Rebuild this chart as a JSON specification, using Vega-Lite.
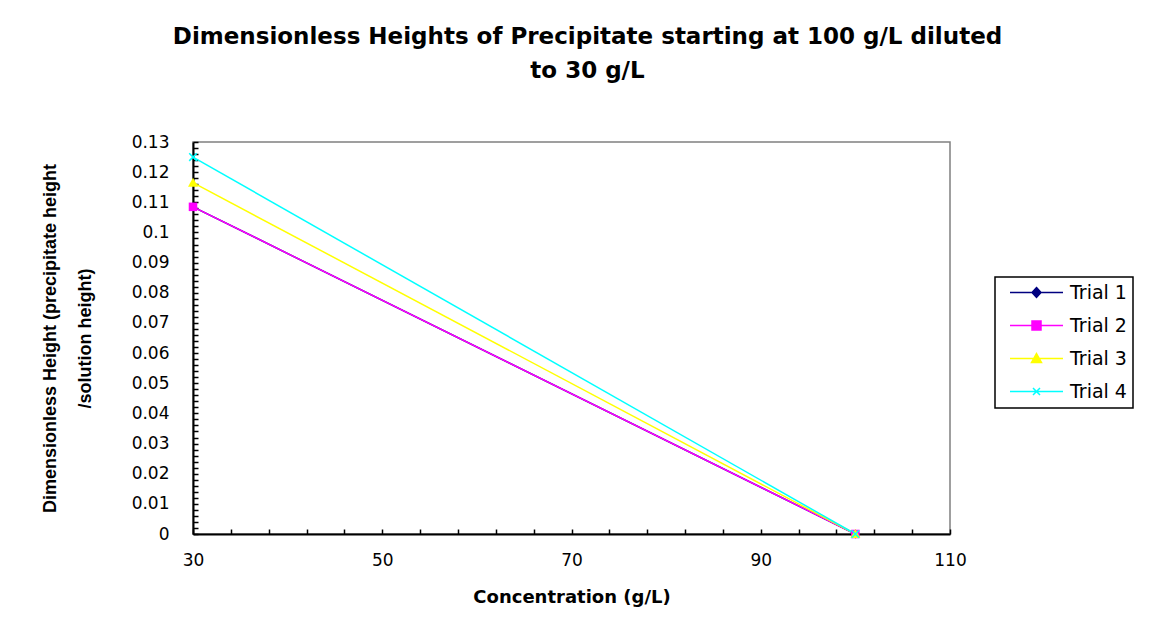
{
  "$schema": "https://vega.github.io/schema/vega-lite/v6.json",
  "autosize": "none",
  "padding": {"left": 193, "top": 142, "right": 214, "bottom": 110},
  "width": 757,
  "height": 392,
  "background": "white",
  "title": {
    "text": ["Dimensionless Heights of Precipitate starting at 100 g/L diluted", "to 30 g/L"],
    "font": "DejaVu Sans",
    "fontSize": 23,
    "fontWeight": "bold",
    "color": "black",
    "anchor": "middle",
    "dx": 16,
    "lineHeight": 34,
    "offset": 50
  },
  "data": {
    "values": [
      {"trial": "Trial 1", "concentration": 30, "height": 0.1085},
      {"trial": "Trial 1", "concentration": 100, "height": 0},
      {"trial": "Trial 2", "concentration": 30, "height": 0.1085},
      {"trial": "Trial 2", "concentration": 100, "height": 0},
      {"trial": "Trial 3", "concentration": 30, "height": 0.1165},
      {"trial": "Trial 3", "concentration": 100, "height": 0},
      {"trial": "Trial 4", "concentration": 30, "height": 0.125},
      {"trial": "Trial 4", "concentration": 100, "height": 0}
    ]
  },
  "encoding": {
    "x": {
      "field": "concentration",
      "type": "quantitative",
      "scale": {"domain": [30, 110], "nice": false, "zero": false},
      "axis": {
        "title": "Concentration (g/L)",
        "values": [30, 34, 38, 42, 46, 50, 54, 58, 62, 66, 70, 74, 78, 82, 86, 90, 94, 98, 102, 106, 110],
        "labelExpr": "datum.value % 20 == 10 ? datum.label : ''",
        "labelFlush": false,
        "grid": false,
        "domainColor": "black",
        "domainWidth": 2,
        "tickColor": "black",
        "tickSize": -5,
        "tickWidth": 1.5,
        "labelPadding": 23,
        "labelFont": "DejaVu Sans",
        "labelFontSize": 17,
        "labelColor": "black",
        "titleFont": "DejaVu Sans",
        "titleFontSize": 18,
        "titleFontWeight": "bold",
        "titleColor": "black",
        "titlePadding": 20
      }
    },
    "y": {
      "field": "height",
      "type": "quantitative",
      "scale": {"domain": [0, 0.13], "nice": false},
      "axis": {
        "title": ["Dimensionless Height (precipitate height", "/solution height)"],
        "values": [0, 0.002, 0.004, 0.006, 0.008, 0.01, 0.012, 0.014, 0.016, 0.018, 0.02, 0.022, 0.024, 0.026, 0.028, 0.03, 0.032, 0.034, 0.036, 0.038, 0.04, 0.042, 0.044, 0.046, 0.048, 0.05, 0.052, 0.054, 0.056, 0.058, 0.06, 0.062, 0.064, 0.066, 0.068, 0.07, 0.072, 0.074, 0.076, 0.078, 0.08, 0.082, 0.084, 0.086, 0.088, 0.09, 0.092, 0.094, 0.096, 0.098, 0.1, 0.102, 0.104, 0.106, 0.108, 0.11, 0.112, 0.114, 0.116, 0.118, 0.12, 0.122, 0.124, 0.126, 0.128, 0.13],
        "labelExpr": "abs(datum.value * 100 - round(datum.value * 100)) < 0.001 ? format(datum.value, '.2~f') : ''",
        "labelFlush": false,
        "grid": false,
        "domainColor": "black",
        "domainWidth": 2,
        "tickColor": "black",
        "tickSize": -5,
        "tickWidth": 1.5,
        "labelPadding": 29,
        "labelFont": "DejaVu Sans",
        "labelFontSize": 17,
        "labelColor": "black",
        "titleFont": "Liberation Sans",
        "titleFontSize": 18,
        "titleFontWeight": "bold",
        "titleColor": "black",
        "titleLineHeight": 35,
        "titlePadding": 37
      }
    },
    "color": {
      "field": "trial",
      "type": "nominal",
      "scale": {
        "domain": ["Trial 1", "Trial 2", "Trial 3", "Trial 4"],
        "range": ["#000080", "#FF00FF", "#FFFF00", "#00FFFF"]
      },
      "legend": {
        "title": null,
        "orient": "none",
        "legendX": 802,
        "legendY": 135,
        "strokeColor": "black",
        "padding": 6,
        "symbolSize": 100,
        "symbolOffset": 26,
        "labelOffset": 24,
        "rowPadding": 13,
        "labelFont": "DejaVu Sans",
        "labelFontSize": 19,
        "labelColor": "black",
        "encode": {
          "legend": {"update": {"strokeWidth": {"value": 1.5}}},
          "symbols": {
            "update": {
              "shape": {"signal": "datum.value == 'Trial 1' ? 'M-5.3,0H5.3M0,-1L0.9,0L0,1L-0.9,0Z' : datum.value == 'Trial 2' ? 'M-5.3,0H5.3M-0.9,-0.9H0.9V0.9H-0.9Z' : datum.value == 'Trial 3' ? 'M-5.3,0H5.3M0,-1L1,0.8H-1Z' : 'M-5.3,0H5.3M-0.7,-0.7L0.7,0.7M-0.7,0.7L0.7,-0.7'"},
              "fill": {"scale": "color", "field": "value"},
              "stroke": {"scale": "color", "field": "value"},
              "strokeWidth": {"value": 1.5},
              "opacity": {"value": 1}
            }
          }
        }
      }
    }
  },
  "layer": [
    {
      "mark": {"type": "line", "strokeWidth": 1.5},
      "encoding": {"order": {"field": "concentration"}}
    },
    {
      "transform": [{"filter": "datum.trial == 'Trial 1'"}],
      "mark": {"type": "point", "filled": true, "opacity": 1, "size": 80, "shape": "M0,-1L0.9,0L0,1L-0.9,0Z"}
    },
    {
      "transform": [{"filter": "datum.trial == 'Trial 2'"}],
      "mark": {"type": "point", "filled": true, "opacity": 1, "size": 90, "shape": "M-0.9,-0.9H0.9V0.9H-0.9Z"}
    },
    {
      "transform": [{"filter": "datum.trial == 'Trial 3'"}],
      "mark": {"type": "point", "filled": true, "opacity": 1, "size": 100, "shape": "M0,-1L1,0.8H-1Z"}
    },
    {
      "transform": [{"filter": "datum.trial == 'Trial 4'"}],
      "mark": {"type": "point", "filled": true, "opacity": 1, "size": 90, "stroke": "#00FFFF", "strokeWidth": 1.5, "shape": "M-0.8,-0.8L0.8,0.8M-0.8,0.8L0.8,-0.8"}
    }
  ],
  "config": {
    "view": {"stroke": "#808080", "strokeWidth": 1.5}
  }
}
